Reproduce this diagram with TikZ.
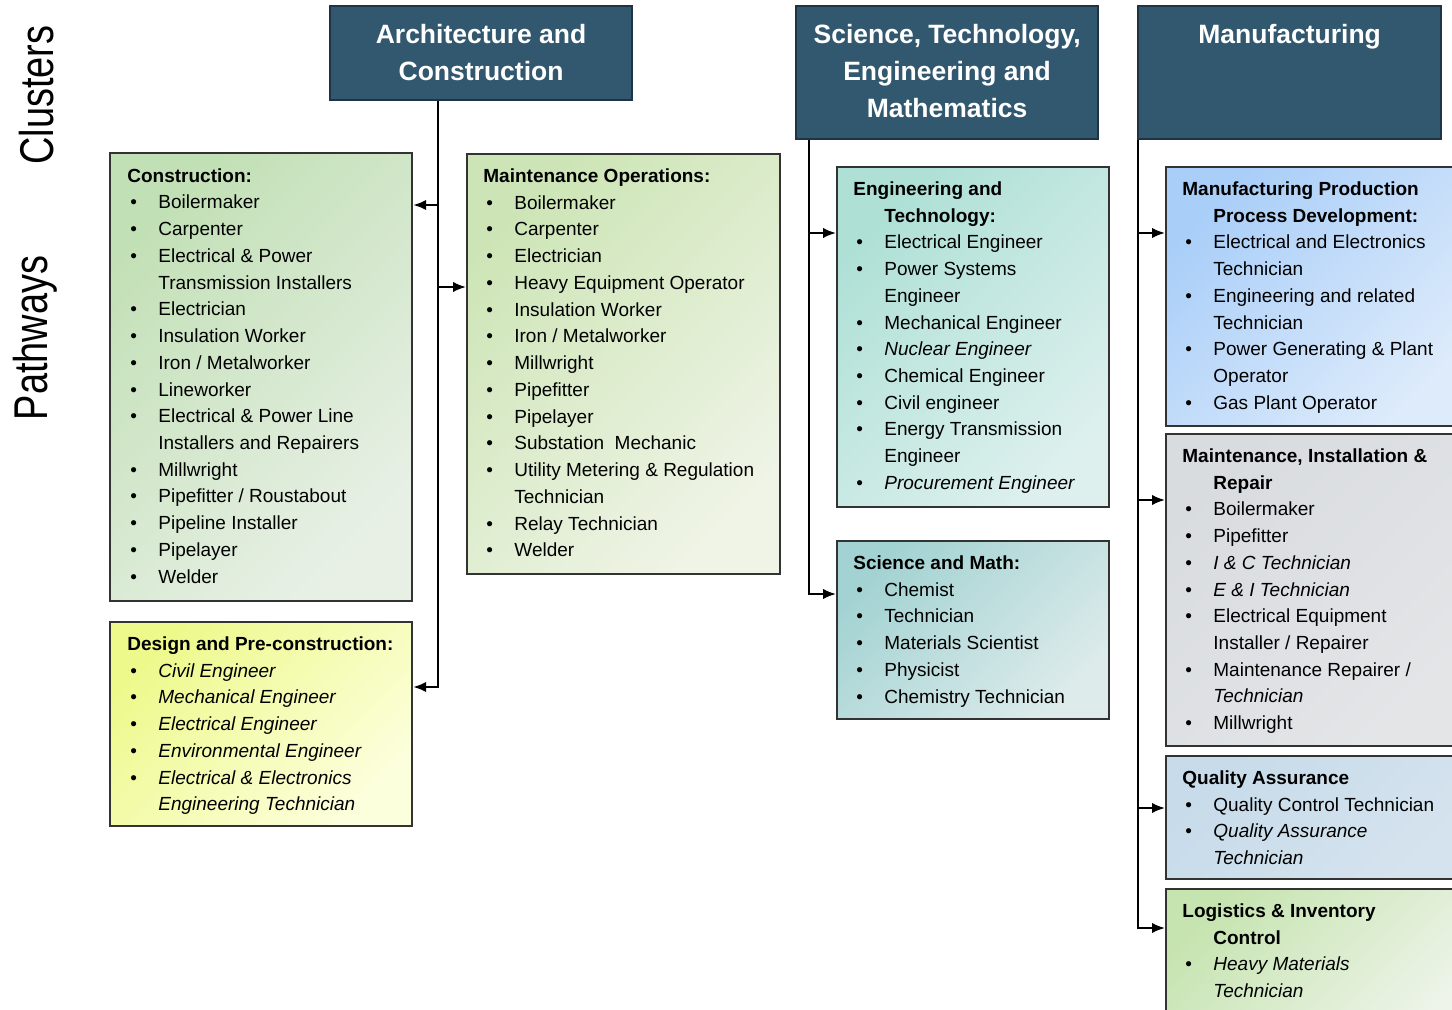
\documentclass[tikz,border=0pt]{standalone}
\usepackage{fontspec}
\setmainfont{Liberation Sans}
\usetikzlibrary{arrows.meta}

\definecolor{hdrfill}{HTML}{32586F}
\definecolor{hdrline}{HTML}{1E3444}
\definecolor{boxline}{HTML}{333333}
\definecolor{consA}{HTML}{C2E0B6}\definecolor{consB}{HTML}{E8F0E6}
\definecolor{mopsA}{HTML}{CDE5B6}\definecolor{mopsB}{HTML}{EFF4E6}
\definecolor{desA}{HTML}{EEF98C}\definecolor{desB}{HTML}{FCFFDC}
\definecolor{engA}{HTML}{AEE0D6}\definecolor{engB}{HTML}{DDF0EE}
\definecolor{sciA}{HTML}{A3D2D2}\definecolor{sciB}{HTML}{DDEBEB}
\definecolor{mppdA}{HTML}{A9CEF8}\definecolor{mppdB}{HTML}{DDEBFB}
\definecolor{mirA}{HTML}{D9DCDF}\definecolor{mirB}{HTML}{E3E5E7}
\definecolor{qaA}{HTML}{C7DBEA}\definecolor{qaB}{HTML}{D5E3EE}
\definecolor{logA}{HTML}{C6E4B0}\definecolor{logB}{HTML}{EEF4EA}

\newlength{\bulw}
\setlength{\bulw}{15.5pt}
% bullet item and continuation line with hanging indent
\newcommand{\itm}[1]{\makebox[\bulw][l]{\hspace*{1.5pt}\textbullet}#1}
\newcommand{\cnt}[1]{\hspace*{\bulw}#1}

\begin{document}
\begin{tikzpicture}[x=0.5pt,y=-0.5pt,
  cluster/.style={draw=hdrline, line width=1.1pt, fill=hdrfill, anchor=north west,
    inner sep=0pt, minimum width=151pt},
  htext/.style={anchor=north, inner sep=0pt, align=center, text=white,
    font=\bfseries\fontsize{13.25}{18.5}\selectfont},
  pbox/.style={draw=boxline, line width=1.1pt, anchor=north west, inner sep=0pt,
    minimum width=151pt},
  ptext/.style={anchor=north west, inner sep=0pt, align=left,
    font=\fontsize{9.5}{13.37}\selectfont},
  side/.style={rotate=90, anchor=base, inner sep=0pt,
    font=\fontsize{23.7}{24}\selectfont},
  conn/.style={line width=1pt, -{Latex[length=6.5pt,width=5.2pt]}},
  shade2/.style 2 args={top color=#1, bottom color=#2, shading angle=45}
]
\clip (0,0) rectangle (1452,1010);
\useasboundingbox (0,0) rectangle (1452,1010);

% side labels
\node[side] (lblclu) at (54,95) {\scalebox{0.8}[1]{Clusters}};
\node[side] (lblpath) at (47,338) {\scalebox{0.8}[1]{Pathways}};

% cluster headers
\node[cluster, minimum height=47pt] (arch) at (329,5) {};
\node[htext] (archT) at ([yshift=-6.3pt]arch.north) {\strut Architecture and\\Construction};
\node[cluster, minimum height=66.5pt] (stem) at (795,5) {};
\node[htext] (stemT) at ([yshift=-6.3pt]stem.north) {\strut Science, Technology,\\Engineering and\\Mathematics};
\node[cluster, minimum height=66.5pt, minimum width=151.5pt] (manu) at (1137,5) {};
\node[htext] (manuT) at ([yshift=-6.3pt]manu.north) {\strut Manufacturing};

% trunk positions
\coordinate (aX) at (438,0);
\coordinate (sX) at (809,0);
\coordinate (mX) at (1138,0);

% ---- Architecture and Construction pathways
\node[pbox, minimum height=224pt, shade2={consA}{consB}] (cons) at (109,152) {};
\node[ptext] (consT) at ([xshift=9pt,yshift=-5.5pt]cons.north west) {\strut\textbf{Construction:}\\
\itm{Boilermaker}\\
\itm{Carpenter}\\
\itm{Electrical \& Power}\\
\cnt{Transmission Installers}\\
\itm{Electrician}\\
\itm{Insulation Worker}\\
\itm{Iron / Metalworker}\\
\itm{Lineworker}\\
\itm{Electrical \& Power Line}\\
\cnt{Installers and Repairers}\\
\itm{Millwright}\\
\itm{Pipefitter / Roustabout}\\
\itm{Pipeline Installer}\\
\itm{Pipelayer}\\
\itm{Welder}};

\node[pbox, minimum height=102pt, shade2={desA}{desB}] (des) at (109,621) {};
\node[ptext] (desT) at ([xshift=9pt,yshift=-5.2pt]des.north west) {\strut\textbf{Design and Pre-construction:}\\
\itm{\textit{Civil Engineer}}\\
\itm{\textit{Mechanical Engineer}}\\
\itm{\textit{Electrical Engineer}}\\
\itm{\textit{Environmental Engineer}}\\
\itm{\textit{Electrical \& Electronics}}\\
\cnt{\textit{Engineering Technician}}};

\node[pbox, minimum width=156.5pt, minimum height=210pt, shade2={mopsA}{mopsB}] (mops) at (466,153) {};
\node[ptext] (mopsT) at ([xshift=8.5pt,yshift=-5.2pt]mops.north west) {\strut\textbf{Maintenance Operations:}\\
\itm{Boilermaker}\\
\itm{Carpenter}\\
\itm{Electrician}\\
\itm{Heavy Equipment Operator}\\
\itm{Insulation Worker}\\
\itm{Iron / Metalworker}\\
\itm{Millwright}\\
\itm{Pipefitter}\\
\itm{Pipelayer}\\
\itm{Substation\ \ Mechanic}\\
\itm{Utility Metering \& Regulation}\\
\cnt{Technician}\\
\itm{Relay Technician}\\
\itm{Welder}};

% ---- STEM pathways
\node[pbox, minimum width=136pt, minimum height=170pt, shade2={engA}{engB}] (eng) at (836,166) {};
\node[ptext] (engT) at ([xshift=8.5pt,yshift=-5.1pt]eng.north west) {\strut\textbf{Engineering and}\\
\cnt{\textbf{Technology:}}\\
\itm{Electrical Engineer}\\
\itm{Power Systems}\\
\cnt{Engineer}\\
\itm{Mechanical Engineer}\\
\itm{\textit{Nuclear Engineer}}\\
\itm{Chemical Engineer}\\
\itm{Civil engineer}\\
\itm{Energy Transmission}\\
\cnt{Engineer}\\
\itm{\textit{Procurement Engineer}}};

\node[pbox, minimum width=136pt, minimum height=89pt, shade2={sciA}{sciB}] (sci) at (836,540) {};
\node[ptext] (sciT) at ([xshift=8.5pt,yshift=-5.1pt]sci.north west) {\strut\textbf{Science and Math:}\\
\itm{Chemist}\\
\itm{Technician}\\
\itm{Materials Scientist}\\
\itm{Physicist}\\
\itm{Chemistry Technician}};

% ---- Manufacturing pathways
\node[pbox, minimum width=150pt, minimum height=129.5pt, shade2={mppdA}{mppdB}] (mppd) at (1165,166) {};
\node[ptext] (mppdT) at ([xshift=8.5pt,yshift=-5.1pt]mppd.north west) {\strut\textbf{Manufacturing Production}\\
\cnt{\textbf{Process Development:}}\\
\itm{Electrical and Electronics}\\
\cnt{Technician}\\
\itm{Engineering and related}\\
\cnt{Technician}\\
\itm{Power Generating \& Plant}\\
\cnt{Operator}\\
\itm{Gas Plant Operator}};

\node[pbox, minimum width=150pt, minimum height=156pt, shade2={mirA}{mirB}] (mir) at (1165,433) {};
\node[ptext] (mirT) at ([xshift=8.5pt,yshift=-5.1pt]mir.north west) {\strut\textbf{Maintenance, Installation \&}\\
\cnt{\textbf{Repair}}\\
\itm{Boilermaker}\\
\itm{Pipefitter}\\
\itm{\textit{I \& C Technician}}\\
\itm{\textit{E \& I Technician}}\\
\itm{Electrical Equipment}\\
\cnt{Installer / Repairer}\\
\itm{Maintenance Repairer /}\\
\cnt{\textit{Technician}}\\
\itm{Millwright}};

\node[pbox, minimum width=150pt, minimum height=61.5pt, shade2={qaA}{qaB}] (qa) at (1165,755) {};
\node[ptext] (qaT) at ([xshift=8.5pt,yshift=-5.1pt]qa.north west) {\strut\textbf{Quality Assurance}\\
\itm{Quality Control Technician}\\
\itm{\textit{Quality Assurance}}\\
\cnt{\textit{Technician}}};

\node[pbox, minimum width=150pt, minimum height=80pt, shade2={logA}{logB}] (logi) at (1165,888) {};
\node[ptext] (logiT) at ([xshift=8.5pt,yshift=-5.1pt]logi.north west) {\strut\textbf{Logistics \& Inventory}\\
\cnt{\textbf{Control}}\\
\itm{\textit{Heavy Materials}}\\
\cnt{\textit{Technician}}};

% ---- connectors from each cluster to its pathways
\draw[conn] (arch.south -| aX) |- ([yshift=-26.5pt]cons.north east);
\draw[conn] (arch.south -| aX) |- ([yshift=-67pt]mops.north west);
\draw[conn] (arch.south -| aX) |- ([yshift=-33pt]des.north east);
\draw[conn] (stem.south -| sX) |- ([yshift=-33.5pt]eng.north west);
\draw[conn] (stem.south -| sX) |- ([yshift=-27pt]sci.north west);
\draw[conn] (manu.south -| mX) |- ([yshift=-33.5pt]mppd.north west);
\draw[conn] (manu.south -| mX) |- ([yshift=-33.5pt]mir.north west);
\draw[conn] (manu.south -| mX) |- ([yshift=-26.5pt]qa.north west);
\draw[conn] (manu.south -| mX) |- ([yshift=-20pt]logi.north west);
\end{tikzpicture}
\end{document}
